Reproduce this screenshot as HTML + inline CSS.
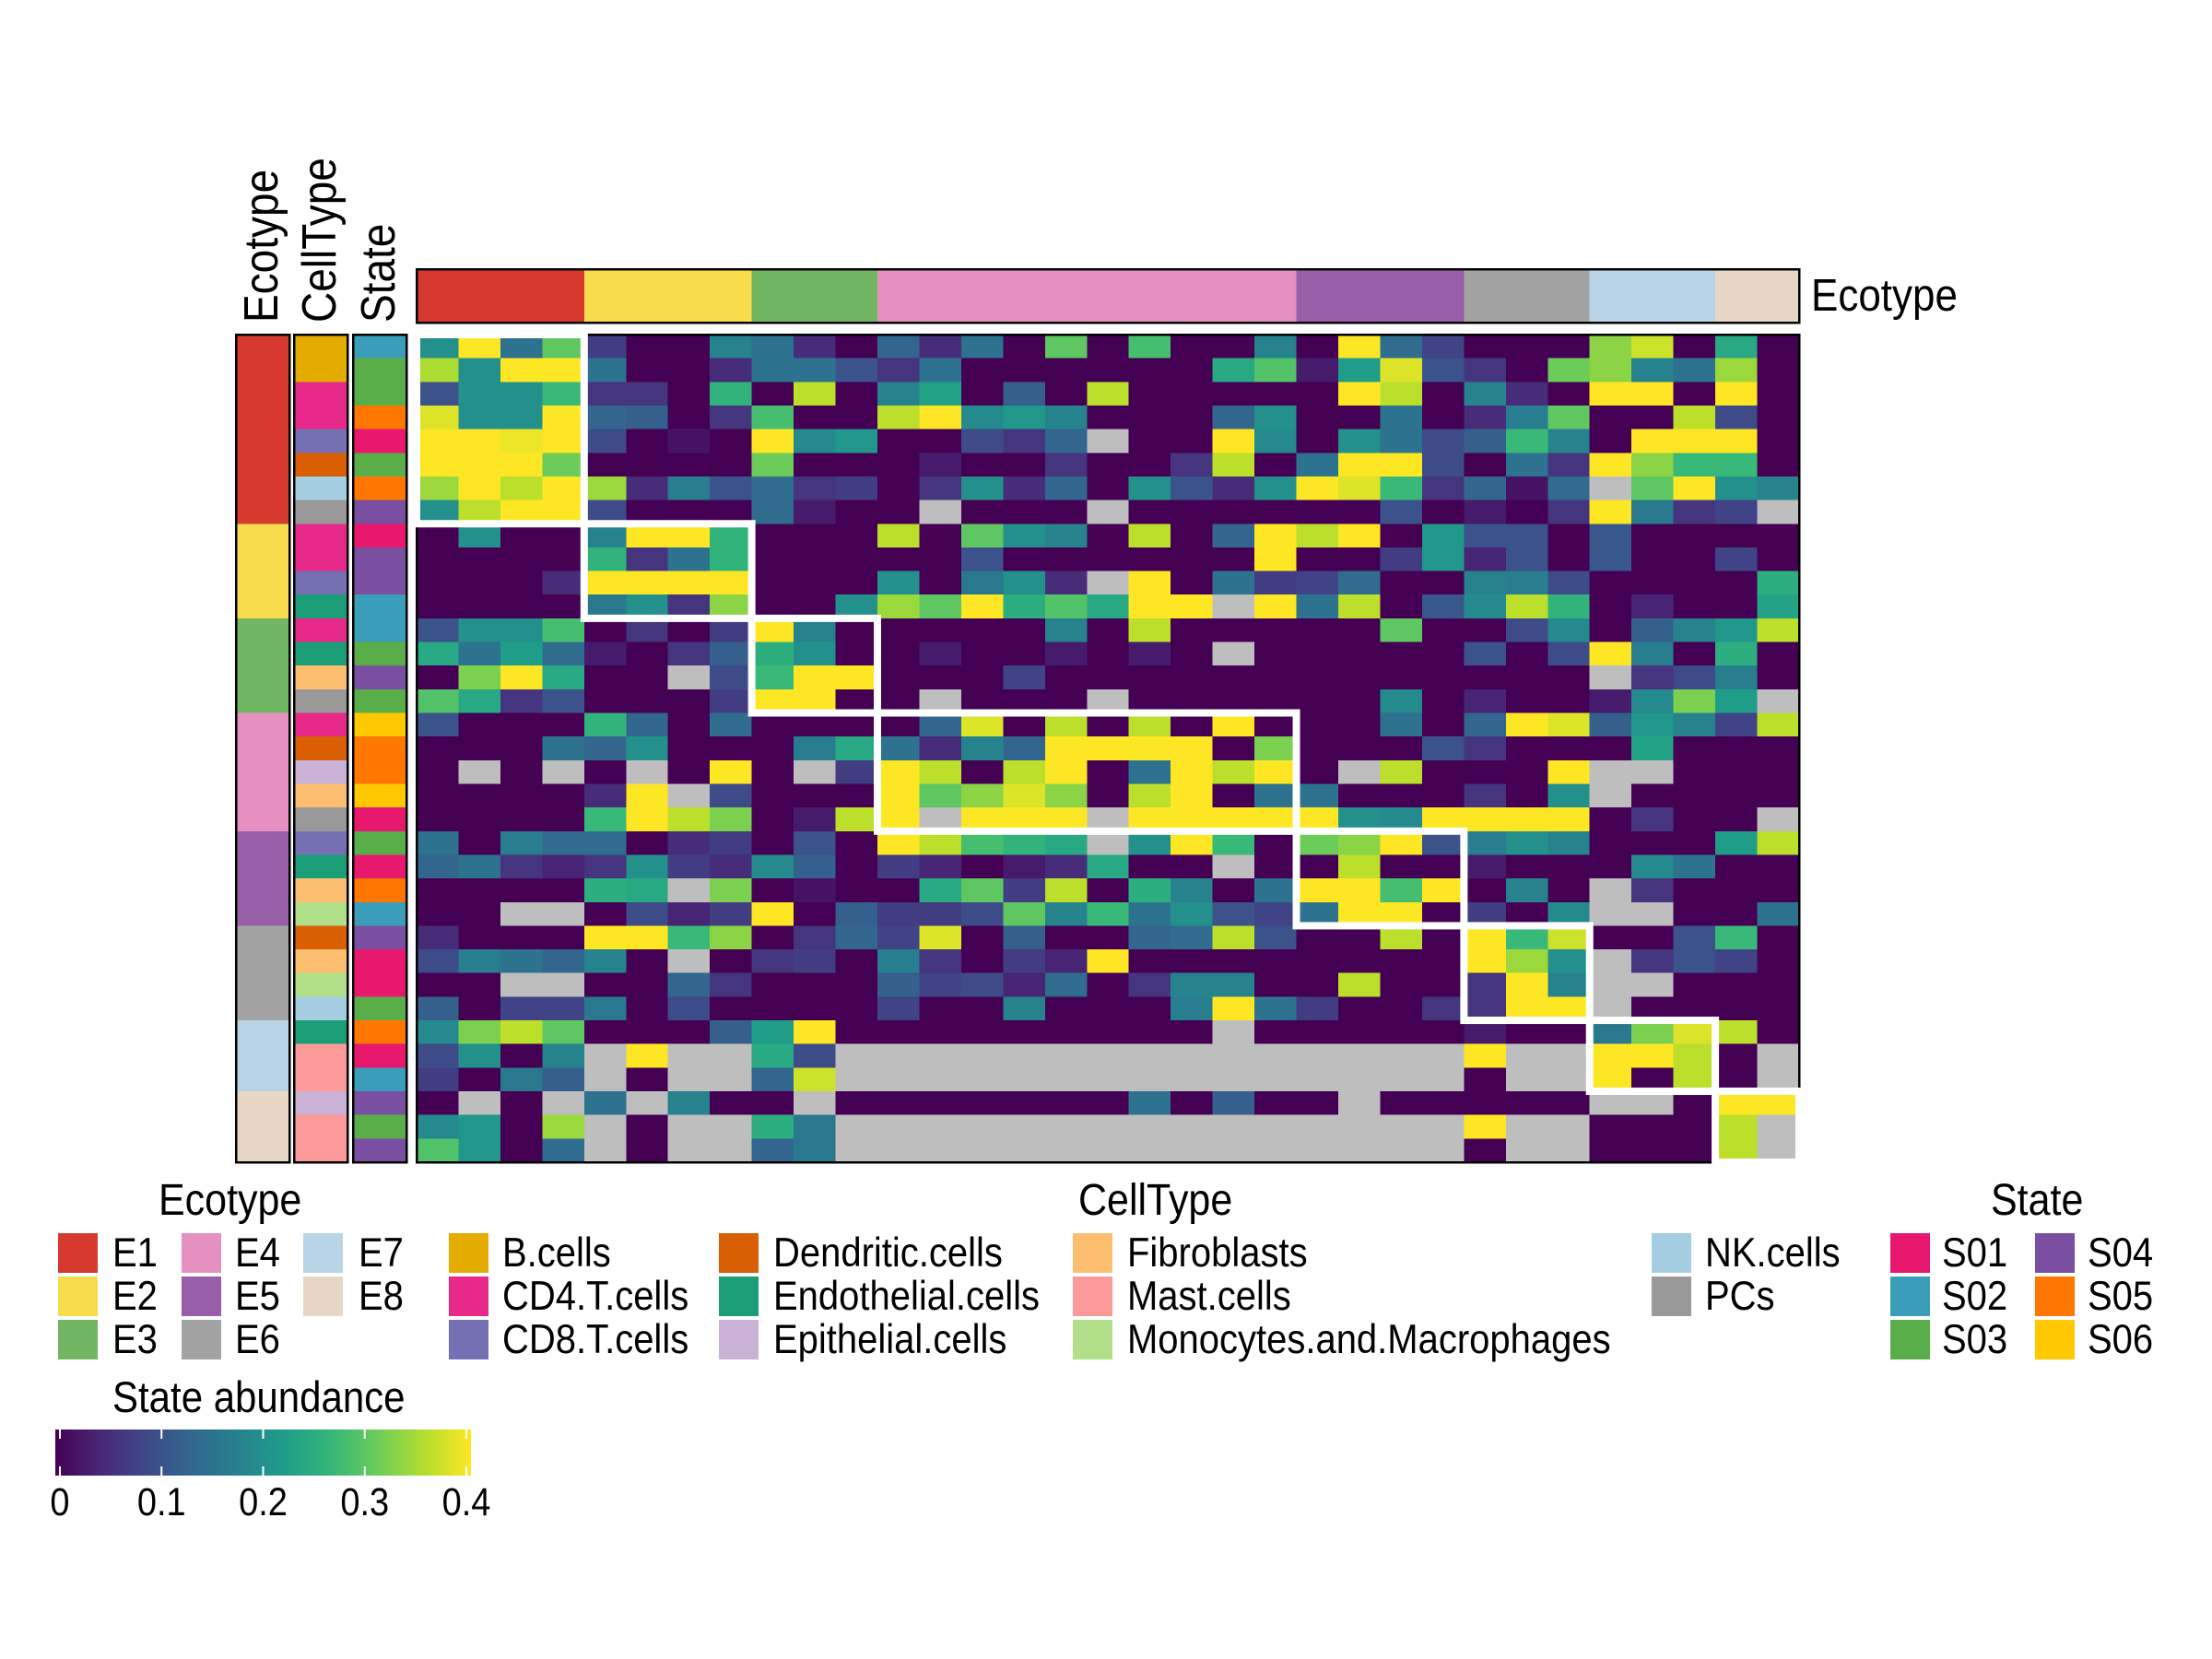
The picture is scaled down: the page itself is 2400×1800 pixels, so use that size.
<!DOCTYPE html>
<html>
<head>
<meta charset="utf-8">
<style>
html,body{margin:0;padding:0;background:#fff;}
svg{display:block;}
text{font-family:"Liberation Sans",sans-serif;fill:#000;}
</style>
</head>
<body>
<svg id="chart" width="2400" height="1800" viewBox="0 0 2400 1800" xmlns="http://www.w3.org/2000/svg">
<g id="cells" shape-rendering="crispEdges"></g>
<g id="boxes"></g>
<g id="annots" shape-rendering="crispEdges"></g>
<g id="legends"></g>
</svg>
<script>
const N = null;
const ecotypeNames = ["E1","E2","E3","E4","E5","E6","E7","E8"];
const ecotypeColColors = ["#d63a2f","#f8dc4c","#72b562","#e590c1","#985fa8","#a3a3a3","#b9d4e6","#e6d8c4"];
const ecotypeColCounts = [4,4,3,10,4,3,3,2];
const ecotypeRowCounts = [8,4,4,5,4,4,3,3];
const cellTypeNames = ["B.cells","CD4.T.cells","CD8.T.cells","Dendritic.cells","Endothelial.cells","Epithelial.cells","Fibroblasts","Mast.cells","Monocytes.and.Macrophages","NK.cells","PCs"];
const cellTypeColors = ["#e5ac00","#e7298a","#7570b3","#d95f02","#1b9e77","#cab2d6","#fdbf6f","#fb9a99","#b2df8a","#a6cee3","#999999"];
const stateNames = ["S01","S02","S03","S04","S05","S06"];
const stateColors = ["#e7186d","#3a9ebb","#5aae4a","#7a4fa1","#ff7700","#ffc800"];
const rowCellType = [0,0,1,1,2,3,9,10,1,1,2,4,1,4,6,10,1,3,5,6,10,2,4,6,8,3,6,8,9,4,7,7,5,7,7];
const rowState = [1,2,2,4,0,2,4,3,0,3,3,1,1,2,3,2,5,4,4,5,0,2,0,4,1,3,0,0,2,4,0,1,3,2,3];
const colorTicks = [0,0.1,0.2,0.3,0.4];
const heat = [
[.2,.4,.15,.3,.07,0,0,.18,.15,.05,0,.13,.05,.15,0,.3,0,.28,0,0,.18,0,.4,.14,.08,0,0,0,.33,.37,0,.24,0],
[.35,.2,.4,.4,.15,0,0,.05,.15,.15,.1,.06,.15,0,0,0,0,0,0,.24,.29,.03,.22,.38,.1,.06,0,.31,.33,.18,.15,.34,0],
[.1,.2,.2,.27,.06,.06,0,.26,0,.36,0,.18,.23,0,.12,0,.36,0,0,0,0,0,.4,.36,0,.18,.05,0,.4,.4,0,.4,0],
[.38,.2,.2,.4,.13,.12,0,.06,.28,0,0,.36,.4,.19,.21,.18,0,0,0,.13,.2,0,0,.15,0,.05,.17,.3,0,0,.36,.09,0],
[.4,.4,.39,.4,.09,0,.02,0,.4,.19,.21,0,0,.09,.06,.13,N,0,0,.4,.19,0,.2,.15,.09,.12,.27,.18,0,.4,.4,.4,0],
[.4,.4,.4,.31,0,0,0,0,.31,0,0,0,.03,0,0,.06,0,0,.06,.36,0,.15,.4,.4,.09,0,.15,.06,.4,.33,.27,.27,0],
[.34,.4,.36,.4,.34,.05,.17,.1,.14,.06,.07,0,.06,.2,.05,.13,0,.2,.1,.05,.2,.4,.38,.27,.06,.13,.02,.14,N,.3,.4,.2,.18],
[.2,.36,.4,.4,.09,0,0,0,.14,.03,0,0,N,0,0,0,N,0,0,0,0,0,0,.1,0,.03,0,.06,.4,.16,.06,.08,N],
[0,.2,0,0,.18,.4,.4,.26,0,0,0,.36,0,.3,.2,.18,0,.36,0,.13,.4,.36,.4,0,.21,.1,.1,0,.11,0,0,0,0],
[0,0,0,0,.26,.06,.15,.26,0,0,0,0,0,.1,0,0,0,0,0,0,.4,0,0,.07,.21,.04,.1,0,.11,0,0,.08,0],
[0,0,0,.05,.4,.4,.4,.4,0,0,0,.2,0,.16,.2,.05,N,.4,0,.15,.07,.08,.14,0,0,.18,.17,.09,0,0,0,0,.25],
[0,0,0,0,.16,.2,.06,.33,0,0,.2,.34,.3,.4,.25,.29,.24,.4,.4,N,.4,.15,.36,0,.11,.19,.36,.26,0,.04,0,0,.23],
[.1,.2,.2,.28,0,.06,0,.07,.4,.18,0,0,0,0,0,.18,0,.36,0,0,0,0,0,.3,0,0,.09,.19,0,.12,.18,.21,.36],
[.24,.15,.22,.14,.03,0,.06,.12,.25,.2,0,0,.03,0,0,.03,0,.03,0,N,0,0,0,0,0,.1,0,.09,.4,.17,0,.25,0],
[0,.32,.4,.24,0,0,N,.09,.27,.4,.4,0,0,0,.08,0,0,0,0,0,0,0,0,0,0,0,0,0,N,.06,.09,.17,0],
[.29,.24,.06,.1,0,0,0,.07,.4,.4,0,0,N,0,0,0,N,0,0,0,0,0,0,.19,0,.04,0,0,.03,.19,.32,.22,N],
[.1,0,0,0,.26,.13,0,.14,0,0,0,0,.13,.38,0,.36,0,.36,0,.4,0,0,0,.15,0,.13,.4,.38,.12,.21,.18,.08,.36],
[0,0,0,.15,.13,.2,0,0,0,.17,.24,.15,.05,.18,.13,.4,.4,.4,.4,0,.32,0,0,0,.1,.06,0,0,0,.23,0,0,0],
[0,N,0,N,0,N,0,.4,0,N,.07,.4,.36,0,.36,.4,0,.15,.4,.36,.4,0,N,.36,0,0,0,.4,N,N,0,0,0],
[0,0,0,0,.05,.4,N,.09,0,0,0,.4,.3,.33,.38,.33,0,.36,.4,0,.15,.15,0,0,0,.06,0,.2,N,0,0,0,0],
[0,0,0,0,.27,.4,.36,.32,0,.03,.36,.4,N,.4,.4,.4,N,.4,.4,.4,.4,.4,.2,.19,.4,.4,.4,.4,0,.06,0,0,N],
[.15,0,.17,.14,.14,0,.05,.07,0,.1,0,.4,.36,.28,.26,.24,N,.2,.4,.27,0,.31,.33,.4,.1,.17,.2,.18,0,0,0,.22,.36],
[.13,.15,.06,.04,.06,.2,.07,.05,.19,.12,0,.07,.04,0,.03,.05,.24,0,0,N,0,0,.36,0,0,.03,0,0,0,.19,.15,0,0],
[0,0,0,0,.25,.24,N,.32,0,.02,0,0,.24,.3,.07,.36,0,.25,.18,0,.15,.4,.4,.28,.4,0,.18,0,N,.06,0,0,0],
[0,0,N,N,0,.09,.04,.07,.4,0,.12,.07,.07,.09,.3,.18,.27,.15,.2,.1,.08,.15,.4,.4,0,.07,0,.19,N,N,0,0,.15],
[.05,0,0,0,.4,.4,.27,.33,0,.06,.13,.08,.38,0,.12,0,0,.13,.14,.36,.1,0,0,.36,0,.4,.27,.37,0,0,.1,.27,0],
[.09,.17,.15,.13,.18,0,N,0,.06,.07,0,.17,.06,0,.07,.04,.4,0,0,0,0,0,0,0,0,.4,.34,.2,N,.06,.1,.08,0],
[0,0,N,N,0,0,.13,.06,0,0,0,.12,.08,.09,.04,.14,0,.06,.18,.18,0,0,.36,0,0,.06,.4,.18,N,N,0,0,0],
[.12,0,.08,.08,.16,0,.09,0,0,0,0,.08,0,0,.18,0,0,0,.17,.4,.15,.07,0,0,.06,.06,.4,.4,N,0,0,0,0],
[.19,.32,.36,.3,0,0,0,.12,.22,.4,0,0,0,0,0,0,0,0,0,N,0,0,0,0,0,.03,0,0,.16,.32,.38,.36,0],
[.09,.2,0,.18,N,.4,N,N,.24,.09,N,N,N,N,N,N,N,N,N,N,N,N,N,N,N,.4,N,N,.4,.4,.36,0,N],
[.07,0,.16,.12,N,0,N,N,.13,.37,N,N,N,N,N,N,N,N,N,N,N,N,N,N,N,0,N,N,.4,0,.36,0,N],
[0,N,0,N,.15,N,.18,0,0,N,0,0,0,0,0,0,0,.15,0,.12,0,0,N,0,0,0,0,0,N,N,0,.4,.4],
[.19,.21,0,.34,N,0,N,N,.25,.16,N,N,N,N,N,N,N,N,N,N,N,N,N,N,N,.4,N,N,0,0,0,.36,N],
[.29,.21,0,.14,N,0,N,N,.13,.16,N,N,N,N,N,N,N,N,N,N,N,N,N,N,N,0,N,N,0,0,0,.36,N]
];

const SVGNS = "http://www.w3.org/2000/svg";
const X0 = 452, X1 = 1952, Y0 = 363, Y1 = 1261;
const nCols = heat[0].length, nRows = heat.length;
const cw = (X1 - X0) / nCols, rh = (Y1 - Y0) / nRows;
const xCol = c => X0 + c * cw;
const yRow = r => Y0 + r * rh;
const VMAX = 0.4;
const vir = [[68,1,84],[72,40,120],[62,74,137],[49,104,142],[38,130,142],[31,158,137],[53,183,121],[109,205,89],[180,222,44],[253,231,37]];
function viridis(t){
  t = Math.max(0, Math.min(1, t));
  const p = t * (vir.length - 1), i = Math.min(Math.floor(p), vir.length - 2), f = p - i;
  const a = vir[i], b = vir[i+1];
  return "rgb(" + a.map((v,k)=>Math.round(v + (b[k]-v)*f)).join(",") + ")";
}
function mk(tag, attrs, parent){
  const e = document.createElementNS(SVGNS, tag);
  for (const k in attrs) e.setAttribute(k, attrs[k]);
  parent.appendChild(e);
  return e;
}
function stxt(s, x, y, size, parent, anchor, rot){
  const e = mk("text", {x: 0, y: 0, "font-size": size, "text-anchor": anchor || "start",
    transform: "translate(" + x + " " + y + ")" + (rot ? " rotate(" + rot + ")" : "") + " scale(1 1.12)"}, parent);
  e.textContent = s;
  return e;
}

const gCells = document.getElementById("cells");
for (let r = 0; r < nRows; r++){
  for (let c = 0; c < nCols; c++){
    const v = heat[r][c];
    const el = mk("rect", {x: xCol(c), y: yRow(r), width: cw + 0.6, height: rh + 0.6, fill: v === null ? "#bebebe" : viridis(v / VMAX)}, gCells);
    
    
  }
}
const hb = mk("rect", {x: X0, y: Y0, width: X1 - X0, height: Y1 - Y0, fill: "none", stroke: "#000", "stroke-width": 2.5}, gCells);



const gBoxes = document.getElementById("boxes");
let cs = 0, rs = 0;
for (let k = 0; k < ecotypeNames.length; k++){
  const el = mk("rect", {x: xCol(cs), y: yRow(rs), width: ecotypeColCounts[k] * cw, height: ecotypeRowCounts[k] * rh, fill: "none", stroke: "#fff", "stroke-width": 8}, gBoxes);
  
  
  cs += ecotypeColCounts[k]; rs += ecotypeRowCounts[k];
}

const gA = document.getElementById("annots");
cs = 0;
for (let k = 0; k < ecotypeNames.length; k++){
  const el = mk("rect", {x: xCol(cs), y: 292, width: ecotypeColCounts[k] * cw, height: 58, fill: ecotypeColColors[k]}, gA);
  
  
  cs += ecotypeColCounts[k];
}
const tb = mk("rect", {x: X0, y: 292, width: X1 - X0, height: 58, fill: "none", stroke: "#000", "stroke-width": 2.5}, gA);


const tl = stxt("Ecotype", 1965, 337, 44, gA);



const colX = [256, 319, 383], colW = 58;
rs = 0;
for (let k = 0; k < ecotypeNames.length; k++){
  const el = mk("rect", {x: colX[0], y: yRow(rs), width: colW, height: ecotypeRowCounts[k] * rh, fill: ecotypeColColors[k]}, gA);
  
  
  rs += ecotypeRowCounts[k];
}
for (let r = 0; r < nRows; r++){
  const a = mk("rect", {x: colX[1], y: yRow(r), width: colW, height: rh + 0.6, fill: cellTypeColors[rowCellType[r]]}, gA);
  
  
  const b = mk("rect", {x: colX[2], y: yRow(r), width: colW, height: rh + 0.6, fill: stateColors[rowState[r]]}, gA);
  
  
}
const leftTitles = ["Ecotype","CellType","State"];
for (let i = 0; i < 3; i++){
  const bd = mk("rect", {x: colX[i], y: Y0, width: colW, height: Y1 - Y0, fill: "none", stroke: "#000", "stroke-width": 2.5}, gA);
  
  
  const cx = colX[i] + colW / 2 + 16;
  const t = stxt(leftTitles[i], cx, 350, 46, gA, "start", -90);
  
  
}

const gL = document.getElementById("legends");
function legendGroup(title, titleX, names, colors, cols){
  const t = stxt(title, titleX, 1318, 43, gL);
  
  
  for (let i = 0; i < names.length; i++){
    const col = Math.floor(i / 3), row = i % 3;
    const sx = cols[col][0], lx = cols[col][1], sy = 1338 + row * 47;
    const s = mk("rect", {x: sx, y: sy, width: 43, height: 43, fill: colors[i]}, gL);
    
    
    const l = stxt(names[i], lx, sy + 36, 40, gL);
    
    
  }
}
legendGroup("Ecotype", 172, ecotypeNames, ecotypeColColors, [[63,122],[197,255],[329,389]]);
legendGroup("CellType", 1170, cellTypeNames, cellTypeColors, [[487,545],[780,839],[1164,1223],[1792,1850]]);
legendGroup("State", 2160, stateNames, stateColors, [[2051,2107],[2208,2265]]);

const defs = mk("defs", {}, gL);
const grad = mk("linearGradient", {id: "vgrad", x1: "0", x2: "1", y1: "0", y2: "0"}, defs);
for (let i = 0; i <= 20; i++){
  mk("stop", {offset: (i / 20), "stop-color": viridis(i / 20)}, grad);
}
const ct = stxt("State abundance", 122, 1532, 42, gL);


const CB0 = 65, CB1 = 506;
const cb = mk("rect", {x: 60, y: 1551, width: 451, height: 50, fill: "url(#vgrad)"}, gL);


for (const tv of colorTicks){
  const x = CB0 + (tv / VMAX) * (CB1 - CB0);
  const t1 = mk("line", {x1: x, x2: x, y1: 1551, y2: 1561, stroke: "#fff", "stroke-width": 2}, gL);
  
  
  const t2 = mk("line", {x1: x, x2: x, y1: 1591, y2: 1601, stroke: "#fff", "stroke-width": 2}, gL);
  
  
  const lb = stxt(String(tv), x, 1644, 38, gL, "middle");
  
  
}
</script>
</body>
</html>
